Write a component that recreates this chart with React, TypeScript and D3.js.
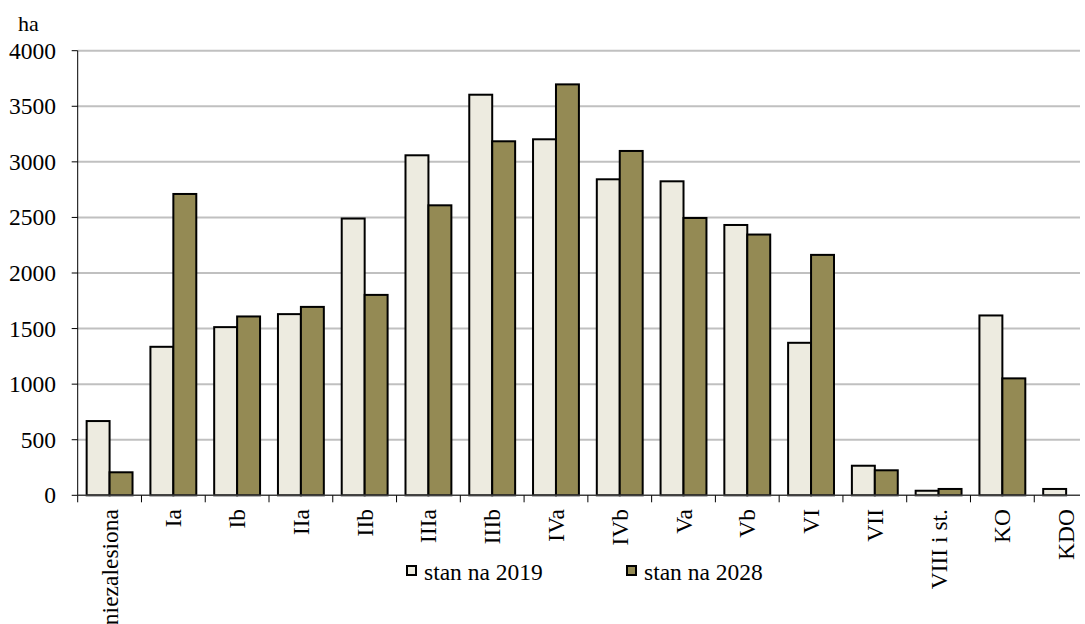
import React from "react";
import * as d3 from "d3";

// Area (ha) by age class, state in 2019 vs planned state in 2028
const categories = [
  "niezalesiona", "Ia", "Ib", "IIa", "IIb", "IIIa", "IIIb", "IVa",
  "IVb", "Va", "Vb", "VI", "VII", "VIII i st.", "KO", "KDO",
];
const stan2019 = [668, 1336, 1513, 1630, 2490, 3059, 3604, 3203, 2843, 2825, 2432, 1372, 266, 41, 1618, 57];
const stan2028 = [207, 2711, 1609, 1695, 1803, 2609, 3185, 3697, 3098, 2495, 2346, 2163, 225, 57, 1052, 0];
const seriesNames = ["stan na 2019", "stan na 2028"];
const yTicks = [0, 500, 1000, 1500, 2000, 2500, 3000, 3500, 4000];

const W = 1085;
const H = 624;
const FILL = ["#EDEBE0", "#948A54"];
const FONT = "'Liberation Serif', 'Times New Roman', serif";
const FS = 23.5;

export default function App() {
  const left = 77.7;
  const step = 63.77;
  const x = d3.scaleBand<string>()
    .domain(categories)
    .range([left, left + step * categories.length])
    .padding(0);
  const xs = d3.scaleBand<string>()
    .domain(["0", "1"])
    .range([0, x.bandwidth()])
    .paddingInner(0)
    .paddingOuter(0.39);
  const y = d3.scaleLinear().domain([0, 4000]).range([495.3, 50.7]);
  const gridRight = 1080;
  const values = [stan2019, stan2028];

  return (
    <svg
      width={W}
      height={H}
      style={{ position: "absolute", left: 0, top: 0, background: "#fff" }}
      fontFamily={FONT}
    >
      {/* horizontal gridlines */}
      {yTicks.filter((t) => t > 0).map((t) => (
        <line key={t} x1={left} x2={gridRight} y1={y(t)} y2={y(t)} stroke="#C0C0C0" strokeWidth={2} />
      ))}
      {/* y axis */}
      <line x1={left} x2={left} y1={y(4000)} y2={y(0)} stroke="#000" strokeWidth={1} />
      {yTicks.map((t) => (
        <g key={t}>
          <line x1={left - 6} x2={left} y1={y(t)} y2={y(t)} stroke="#000" strokeWidth={1} />
          <text x={56} y={y(t)} dy="0.34em" textAnchor="end" fontSize={FS} fill="#000">
            {t}
          </text>
        </g>
      ))}
      <text x={18} y={31} fontSize={22} fill="#000">ha</text>

      {/* bars */}
      {categories.map((c, i) => (
        <g key={c}>
          {values.map((vals, s) => {
            const v = vals[i];
            if (v <= 0) return null;
            const bx = (x(c) as number) + (xs(String(s)) as number);
            return (
              <rect
                key={s}
                x={bx}
                y={y(v)}
                width={xs.bandwidth()}
                height={y(0) - y(v)}
                fill={FILL[s]}
                stroke="#000"
                strokeWidth={2}
              />
            );
          })}
        </g>
      ))}

      {/* x axis */}
      <line x1={left} x2={gridRight} y1={y(0)} y2={y(0)} stroke="#404040" strokeWidth={1.5} />
      {categories.map((c) => (
        <line
          key={"t" + c}
          x1={x(c) as number}
          x2={x(c) as number}
          y1={y(0)}
          y2={y(0) + 7}
          stroke="#000"
          strokeWidth={1}
        />
      ))}
      {categories.map((c) => {
        const cx = (x(c) as number) + x.bandwidth() / 2;
        return (
          <text
            key={"l" + c}
            transform={`translate(${cx},509) rotate(-90)`}
            textAnchor="end"
            dy="0.34em"
            fontSize={FS}
            fill="#000"
          >
            {c}
          </text>
        );
      })}

      {/* legend */}
      {seriesNames.map((n, s) => {
        const lx = s === 0 ? 407 : 627;
        return (
          <g key={n}>
            <rect x={lx} y={566} width={9} height={9} fill={FILL[s]} stroke="#000" strokeWidth={2} />
            <text x={lx + 17} y={580} fontSize={FS} fill="#000">{n}</text>
          </g>
        );
      })}
    </svg>
  );
}
